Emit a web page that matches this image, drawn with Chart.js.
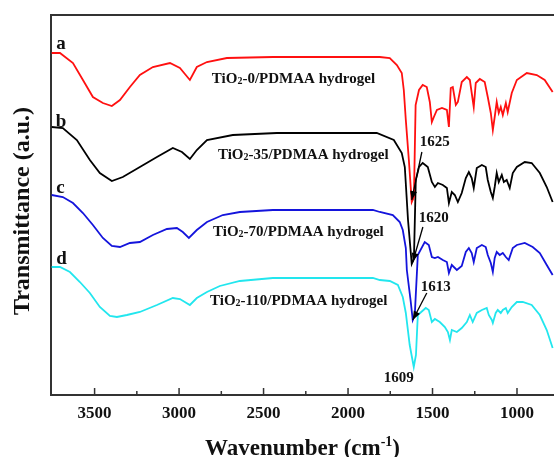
<!DOCTYPE html>
<html><head><meta charset="utf-8">
<script src="https://cdn.jsdelivr.net/npm/chart.js@4"></script>
<style>body{margin:0;background:#fff}canvas{display:block}</style>
</head><body>
<canvas id="c" width="554" height="457"></canvas>
<script>
// FTIR spectra, transmittance in arbitrary (offset) units
const aWn = [3754,3705,3628,3569,3510,3451,3398,3350,3291,3232,3155,3054,2995,2936,2895,2835,2717,2445,2100,1853,1812,1753,1711,1682,1670,1658,1640,1623,1610,1600,1580,1558,1534,1516,1504,1492,1474,1444,1415,1403,1392,1380,1362,1350,1327,1297,1279,1268,1256,1244,1220,1191,1173,1155,1143,1132,1120,1108,1096,1084,1066,1055,1031,1001,942,883,836,789];
const aT  = [342,342,332,315,298,292,289,295,308,320,328,332,327,315,328,333,337,338,338,338,338,337,330,322,305,275,235,193,198,290,305,310,308,293,273,278,285,287,285,268,307,308,290,293,313,318,315,302,288,312,316,313,298,282,265,278,293,282,288,280,292,283,302,315,322,320,315,303];

const bWn = [3754,3688,3605,3528,3469,3398,3333,3232,3131,3037,2983,2936,2895,2835,2682,2421,2100,1830,1729,1682,1664,1645,1623,1610,1599,1580,1558,1528,1504,1486,1468,1439,1415,1403,1386,1368,1350,1327,1303,1285,1268,1256,1238,1208,1185,1173,1155,1143,1132,1120,1108,1090,1078,1061,1043,1025,1001,954,913,865,824,789];
const bT  = [268,267,255,235,222,214,218,228,238,247,243,236,245,255,260,262,262,262,255,242,228,175,131,136,215,228,232,228,213,208,212,210,207,192,203,200,193,202,217,223,217,207,227,230,228,215,203,197,208,222,213,220,213,215,207,222,228,233,232,222,208,193];

const cWn = [3754,3688,3628,3569,3510,3451,3398,3350,3291,3232,3155,3072,3013,2978,2942,2895,2835,2741,2640,2445,2100,1853,1812,1735,1694,1676,1658,1652,1630,1617,1605,1587,1546,1522,1504,1486,1468,1439,1415,1403,1386,1356,1327,1303,1285,1268,1256,1238,1208,1185,1173,1155,1143,1132,1120,1102,1084,1066,1049,1025,1001,954,907,865,824,789];
const cT  = [200,198,192,182,170,157,149,148,152,153,160,166,167,163,157,165,173,180,183,185,185,185,183,180,173,165,147,125,95,75,80,140,153,150,138,137,138,135,133,122,130,125,129,143,147,142,133,147,150,148,140,132,123,137,143,140,142,138,135,147,150,152,148,142,130,120];

const dWn = [3754,3705,3646,3587,3528,3469,3409,3368,3309,3232,3131,3037,2995,2936,2895,2835,2759,2640,2445,2100,1853,1812,1753,1705,1676,1658,1635,1611,1598,1587,1540,1522,1504,1486,1457,1427,1409,1397,1386,1356,1327,1297,1279,1262,1238,1208,1179,1167,1149,1143,1126,1114,1096,1084,1066,1055,1031,1001,966,913,865,824,789];
const dT  = [128,128,123,113,102,88,79,78,80,83,90,97,96,90,97,103,109,114,117,117,117,115,114,110,98,82,50,28,40,80,87,85,73,76,73,68,63,55,65,63,67,73,80,73,82,85,87,80,75,72,82,85,82,85,87,82,88,93,93,90,80,65,47];

const xTicks = [3500, 3000, 2500, 2000, 1500, 1000];
const xMinor = [3250, 2750, 2250, 1750, 1250];

// curve letters, sample names, peak labels and arrows (data units)
const tags = [['a', 3699, 351], ['b', 3699, 273], ['c', 3702, 207], ['d', 3695, 136]];
const names = [['0', 2806, 317], ['35', 2770, 241], ['70', 2799, 164], ['110', 2817, 95]];
const peaks = [['1625', 1575, 253], ['1620', 1581, 177], ['1613', 1569, 108], ['1609', 1700, 17]];
const arrows = [[1563, 243, 1623, 195], [1557, 168, 1617, 133], [1534, 102, 1617, 75]];

const SERIF = '"Liberation Serif", "Times New Roman", serif';
const pts = (w, t) => w.map((x, i) => ({ x, y: t[i] }));

const deco = {
  id: 'deco',
  afterDraw(ch) {
    const { ctx, chartArea: a, scales: { x, y } } = ch;
    ctx.save();
    ctx.strokeStyle = '#333'; ctx.lineWidth = 2;
    ctx.beginPath(); ctx.moveTo(a.left, a.top); ctx.lineTo(a.right, a.top); ctx.stroke();
    // inward tick marks on the bottom axis
    ctx.lineWidth = 1.5;
    xTicks.forEach(v => { const px = x.getPixelForValue(v); ctx.beginPath(); ctx.moveTo(px, a.bottom); ctx.lineTo(px, a.bottom - 7); ctx.stroke(); });
    xMinor.forEach(v => { const px = x.getPixelForValue(v); ctx.beginPath(); ctx.moveTo(px, a.bottom); ctx.lineTo(px, a.bottom - 4); ctx.stroke(); });

    ctx.fillStyle = '#111'; ctx.textBaseline = 'middle';
    ctx.font = 'bold 19px ' + SERIF;
    tags.forEach(([t, wx, wy]) => { ctx.textAlign = 'center'; ctx.fillText(t, x.getPixelForValue(wx), y.getPixelForValue(wy)); });

    ctx.textAlign = 'left'; ctx.textBaseline = 'alphabetic';
    names.forEach(([n, wx, wy]) => {
      let px = x.getPixelForValue(wx); const py = y.getPixelForValue(wy) + 5;
      ctx.font = 'bold 15px ' + SERIF; ctx.fillText('TiO', px, py); px += ctx.measureText('TiO').width;
      ctx.font = 'bold 10px ' + SERIF; ctx.fillText('2', px, py + 1); px += ctx.measureText('2').width;
      ctx.font = 'bold 15px ' + SERIF; ctx.fillText('-' + n + '/PDMAA hydrogel', px, py);
    });

    ctx.font = 'bold 15px ' + SERIF; ctx.textBaseline = 'middle';
    peaks.forEach(([t, wx, wy], i) => {
      ctx.textAlign = i === 3 ? 'center' : 'left';
      ctx.fillText(t, x.getPixelForValue(wx), y.getPixelForValue(wy));
    });

    ctx.strokeStyle = '#000'; ctx.fillStyle = '#000'; ctx.lineWidth = 1.3;
    arrows.forEach(([x0, y0, x1, y1]) => {
      const p0 = [x.getPixelForValue(x0), y.getPixelForValue(y0)], p1 = [x.getPixelForValue(x1), y.getPixelForValue(y1)];
      const ang = Math.atan2(p1[1] - p0[1], p1[0] - p0[0]);
      ctx.beginPath(); ctx.moveTo(p0[0], p0[1]); ctx.lineTo(p1[0], p1[1]); ctx.stroke();
      ctx.beginPath();
      ctx.moveTo(p1[0], p1[1]);
      ctx.lineTo(p1[0] - 9 * Math.cos(ang) + 3.5 * Math.sin(ang), p1[1] - 9 * Math.sin(ang) - 3.5 * Math.cos(ang));
      ctx.lineTo(p1[0] - 9 * Math.cos(ang) - 3.5 * Math.sin(ang), p1[1] - 9 * Math.sin(ang) + 3.5 * Math.cos(ang));
      ctx.closePath(); ctx.fill();
    });

    // y axis title
    ctx.fillStyle = '#111';
    ctx.save();
    ctx.translate(23, 211); ctx.rotate(-Math.PI / 2);
    ctx.font = 'bold 24px ' + SERIF; ctx.textAlign = 'center'; ctx.textBaseline = 'middle';
    ctx.fillText('Transmittance (a.u.)', 0, 0);
    ctx.restore();

    // x axis title with superscript
    const parts = [['Wavenumber (cm', 23, 0], ['-1', 14, -9], [')', 23, 0]];
    let w = 0;
    parts.forEach(([t, s]) => { ctx.font = 'bold ' + s + 'px ' + SERIF; w += ctx.measureText(t).width; });
    let px = (a.left + a.right) / 2 - w / 2;
    ctx.textAlign = 'left'; ctx.textBaseline = 'alphabetic';
    parts.forEach(([t, s, dy]) => { ctx.font = 'bold ' + s + 'px ' + SERIF; ctx.fillText(t, px, 455 + dy); px += ctx.measureText(t).width; });
    ctx.restore();
  }
};

const ds = (label, data, color) => ({ label, data, borderColor: color, borderWidth: 1.8, pointRadius: 0, tension: 0, fill: false });

new Chart(document.getElementById('c'), {
  type: 'line',
  data: {
    datasets: [
      ds('a', pts(aWn, aT), '#ff1010'),
      ds('b', pts(bWn, bT), '#000000'),
      ds('c', pts(cWn, cT), '#1414dc'),
      ds('d', pts(dWn, dT), '#22e6ee'),
    ]
  },
  options: {
    responsive: false, animation: false,
    layout: { padding: { top: 15, right: 0, left: 0, bottom: 0 } },
    plugins: { legend: { display: false }, tooltip: { enabled: false } },
    scales: {
      x: {
        type: 'linear', reverse: true, min: 781, max: 3758,
        afterBuildTicks: s => { s.ticks = xTicks.map(v => ({ value: v })); },
        afterFit: s => { s.height = 62; },
        grid: { display: false, drawTicks: false },
        border: { display: true, color: '#333', width: 2 },
        ticks: { color: '#111', padding: 8, maxRotation: 0, callback: v => String(v), font: { family: SERIF, size: 17, weight: 'bold' } },
      },
      y: {
        min: 0, max: 380,
        afterFit: s => { s.width = 51; },
        grid: { display: false, drawTicks: false },
        border: { display: true, color: '#333', width: 2 },
        ticks: { display: false },
      }
    }
  },
  plugins: [deco]
});
</script>
</body></html>
